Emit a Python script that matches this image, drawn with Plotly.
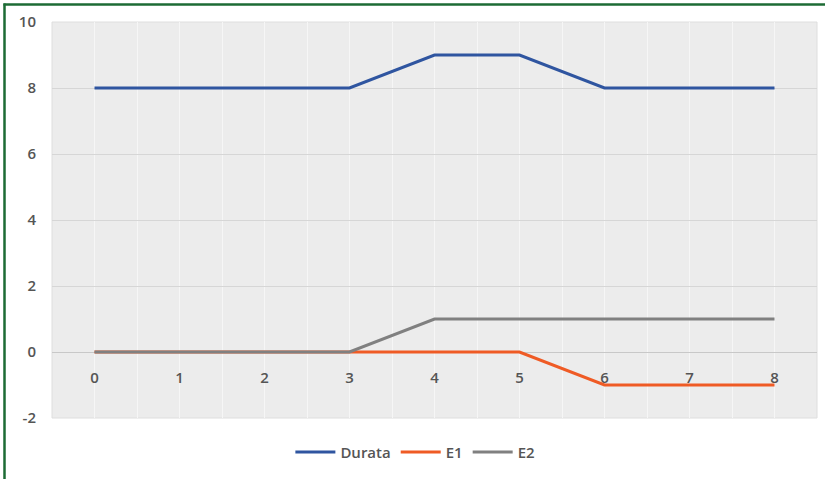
import plotly.graph_objects as go

# Stage index on the category axis
steps = [0, 1, 2, 3, 4, 5, 6, 7, 8]

# Series values
durata = [8, 8, 8, 8, 9, 9, 8, 8, 8]
e1 = [0, 0, 0, 0, 0, 0, -1, -1, -1]
e2 = [0, 0, 0, 0, 1, 1, 1, 1, 1]

# Value axis ticks (plain hyphen for the negative label)
y_ticks = [-2, 0, 2, 4, 6, 8, 10]
y_ticktext = ["-2", "0", "2", "4", "6", "8", "10"]

series_names = ["Durata", "E1", "E2"]
series_colors = ["#2f55a0", "#ef5b25", "#808080"]

W, H = 825, 479
L, R, T, B = 52, 8, 22, 61
plot_w = W - L - R
plot_h = H - T - B


def px_to_paper_x(px):
    return (px - L) / plot_w


def px_to_paper_y(py):
    return (H - B - py) / plot_h


fig = go.Figure()
for name, vals, col in zip(series_names, [durata, e1, e2], series_colors):
    fig.add_trace(go.Scatter(
        x=steps, y=vals, name=name, mode="lines",
        line=dict(color=col, width=3),
    ))

font = dict(family="Open Sans, Liberation Sans, Arial, sans-serif", size=15,
            color="#555555", weight=600)

fig.update_layout(
    width=W, height=H,
    margin=dict(l=L, r=R, t=T, b=B),
    paper_bgcolor="white",
    plot_bgcolor="#ececec",
    font=font,
    showlegend=True,
    legend=dict(
        orientation="h", x=0.475, xanchor="center", y=-0.045, yanchor="top",
        font=font, itemwidth=40,
    ),
    xaxis=dict(
        range=[-0.5, 8.5],
        tickmode="array", tickvals=steps, ticktext=[str(s) for s in steps],
        showgrid=True, gridcolor="#f6f6f6", gridwidth=1,
        minor=dict(dtick=0.5, tick0=0, showgrid=True, gridcolor="#f6f6f6", gridwidth=1),
        zeroline=False, showline=False,
        anchor="free", position=2 / 12,
        ticks="", ticklabelstandoff=15,
    ),
    yaxis=dict(
        range=[-2, 10],
        tickmode="array", tickvals=y_ticks, ticktext=y_ticktext,
        showgrid=True, gridcolor="#d6d6d6", gridwidth=1,
        zeroline=True, zerolinecolor="#c8c8c8", zerolinewidth=1,
        showline=False, ticks="", ticklabelstandoff=15,
    ),
    shapes=[
        # plot area frame
        dict(type="rect", xref="paper", yref="paper", x0=0, y0=0, x1=1, y1=1,
             line=dict(color="#dedede", width=1), layer="below"),
        # outer green frame (top and left edges)
        dict(type="line", xref="paper", yref="paper",
             x0=px_to_paper_x(3.5), x1=px_to_paper_x(830),
             y0=px_to_paper_y(4.5), y1=px_to_paper_y(4.5),
             line=dict(color="#1d6b34", width=2.5)),
        dict(type="line", xref="paper", yref="paper",
             x0=px_to_paper_x(4.5), x1=px_to_paper_x(4.5),
             y0=px_to_paper_y(3.5), y1=px_to_paper_y(485),
             line=dict(color="#1d6b34", width=2.5)),
    ],
)

fig.write_html("out.html")
